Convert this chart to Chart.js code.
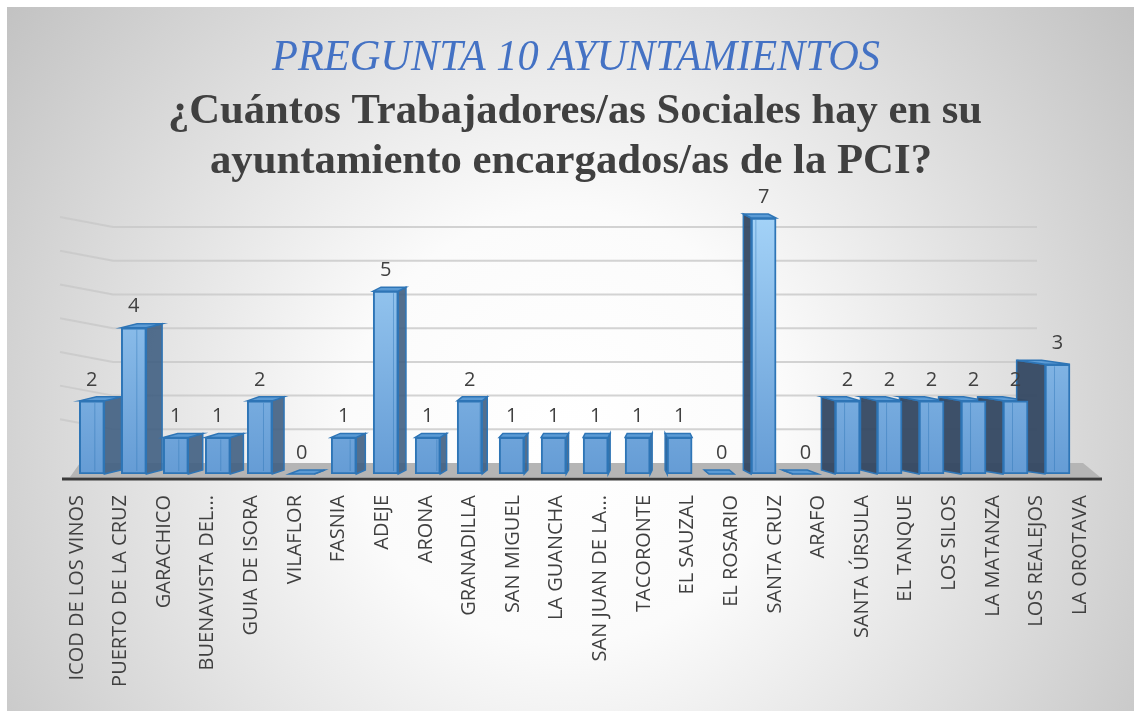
<!DOCTYPE html>
<html>
<head>
<meta charset="utf-8">
<script src="https://cdn.jsdelivr.net/npm/chart.js@4.4.1/dist/chart.umd.min.js"></script>
<style>
  html, body { margin: 0; padding: 0; background: #ffffff; }
  #panel { position: absolute; left: 7px; top: 7px; width: 1127px; height: 704px; }
</style>
</head>
<body>
<div id="panel"><canvas id="grafico"></canvas></div>
<script>
/* --------------- Datos --------------------- */
const municipios = [
  "ICOD DE LOS VINOS", "PUERTO DE LA CRUZ", "GARACHICO", "BUENAVISTA DEL...",
  "GUIA DE ISORA", "VILAFLOR", "FASNIA", "ADEJE", "ARONA", "GRANADILLA",
  "SAN MIGUEL", "LA GUANCHA", "SAN JUAN DE LA...", "TACORONTE", "EL SAUZAL",
  "EL ROSARIO", "SANTA CRUZ", "ARAFO", "SANTA ÚRSULA", "EL TANQUE",
  "LOS SILOS", "LA MATANZA", "LOS REALEJOS", "LA OROTAVA"
];
const trabajadores = [2, 4, 1, 1, 2, 0, 1, 5, 1, 2, 1, 1, 1, 1, 1, 0, 7, 0, 2, 2, 2, 2, 2, 3];
const titulo = "PREGUNTA 10 AYUNTAMIENTOS";
const pregunta = [
  "¿Cuántos Trabajadores/as Sociales hay en su",
  "ayuntamiento encargados/as de la PCI?"
];
const nivelesRejilla = [1, 2, 3, 4, 5, 6, 7];

/* --------------- Ayudas de dibujo --------------------- */
function textoAjustado(ctx, txt, cx, by, font, color, ancho) {
  ctx.save();
  ctx.font = font;
  ctx.fillStyle = color;
  ctx.textAlign = "center";
  ctx.textBaseline = "alphabetic";
  const k = ancho / ctx.measureText(txt).width;
  ctx.translate(cx, by);
  ctx.scale(k, 1);
  ctx.fillText(txt, 0, 0);
  ctx.restore();
}

function poligono(ctx, pts, fill, stroke, lw) {
  ctx.beginPath();
  ctx.moveTo(pts[0][0], pts[0][1]);
  for (let i = 1; i < pts.length; i++) ctx.lineTo(pts[i][0], pts[i][1]);
  ctx.closePath();
  ctx.fillStyle = fill;
  ctx.fill();
  if (stroke) {
    ctx.strokeStyle = stroke;
    ctx.lineWidth = lw;
    ctx.stroke();
  }
}

const PUNTO_FUGA = 633;
const FONDO = 4;

// ancho y sentido del lateral de cada barra (perspectiva)
function lateral(x, w) {
  if (x < PUNTO_FUGA) return { s: Math.max(2, (PUNTO_FUGA - (x + w / 2)) * 0.032), dir: 1 };
  return { s: Math.max(2, ((x - w / 2) - PUNTO_FUGA) * 0.07), dir: -1 };
}

/* --------------- Plugin 3D --------------------- */
const efecto3d = {
  id: "efecto3d",
  beforeDraw(chart) {
    const { ctx, width, height } = chart;
    ctx.save();
    const g = ctx.createRadialGradient(560, 420, 0, 560, 420, 720);
    g.addColorStop(0, "#ffffff");
    g.addColorStop(0.3, "#fbfbfb");
    g.addColorStop(1, "#c0c0c0");
    ctx.fillStyle = g;
    ctx.fillRect(0, 0, width, height);
    ctx.restore();

    textoAjustado(ctx, titulo, 569, 63, "italic 44px 'Liberation Serif'", "#4472c4", 608);
    textoAjustado(ctx, pregunta[0], 568, 116, "bold 42px 'Liberation Serif'", "#404040", 814);
    textoAjustado(ctx, pregunta[1], 564, 166, "bold 42px 'Liberation Serif'", "#404040", 722);
  },
  beforeDatasetsDraw(chart) {
    const { ctx } = chart;
    const yg = chart.scales.yg;
    ctx.save();

    // rejilla de la pared del fondo
    ctx.strokeStyle = "rgba(200,200,200,0.8)";
    ctx.lineWidth = 2;
    nivelesRejilla.forEach((v) => {
      const py = yg.getPixelForValue(v);
      ctx.beginPath();
      ctx.moveTo(53, py - 10);
      ctx.lineTo(106, py);
      ctx.lineTo(1030, py);
      ctx.stroke();
    });

    // suelo
    const base = chart.chartArea.bottom;
    poligono(ctx, [[73, base - 11], [1076, base - 11], [1093, base + 3], [63, base + 3]], "#b5b5b5");
    ctx.strokeStyle = "#3a3a3a";
    ctx.lineWidth = 3;
    ctx.beginPath();
    ctx.moveTo(55, base + 5);
    ctx.lineTo(1095, base + 5);
    ctx.stroke();

    // laterales y tapas
    const meta = chart.getDatasetMeta(0);
    meta.data.forEach((bar) => {
      const { x, y, base: b, width: w } = bar.getProps(["x", "y", "base", "width"], true);
      const xl = x - w / 2, xr = x + w / 2;
      const { s, dir } = lateral(x, w);
      const d = FONDO;
      if (dir === 1) {
        poligono(ctx, [[xr, y], [xr + s, y - d], [xr + s, b - d], [xr, b]], "rgba(64,95,130,0.9)", "#2e75b6", 1.5);
        poligono(ctx, [[xl, y], [xl + s, y - d], [xr + s, y - d], [xr, y]], "#5b9bd5", "#2e75b6", 1.5);
      } else {
        poligono(ctx, [[xl, y], [xl - s, y - d], [xl - s, b - d], [xl, b]], "rgba(52,72,98,0.95)", "#2e75b6", 1.5);
        poligono(ctx, [[xl, y], [xl - s, y - d], [xr - s, y - d], [xr, y]], "#5b9bd5", "#2e75b6", 1.5);
      }
    });
    ctx.restore();
  },
  afterDatasetsDraw(chart) {
    const { ctx } = chart;
    const meta = chart.getDatasetMeta(0);
    ctx.save();
    // arista trasera vista a traves de la cara frontal
    ctx.strokeStyle = "rgba(46,117,182,0.45)";
    ctx.lineWidth = 1;
    meta.data.forEach((bar) => {
      const { x, y, base: b, width: w } = bar.getProps(["x", "y", "base", "width"], true);
      if (b - y < 6) return;
      const { s, dir } = lateral(x, w);
      const xe = dir === 1 ? x + w / 2 - Math.min(s, w / 2) + 3 : x - w / 2 + Math.min(s, w / 2) - 3;
      ctx.beginPath();
      ctx.moveTo(xe, y + 2);
      ctx.lineTo(xe, b - 3);
      ctx.stroke();
    });

    ctx.font = "20px 'Open Sans'";
    ctx.fillStyle = "#404040";
    ctx.textAlign = "center";
    ctx.textBaseline = "bottom";
    meta.data.forEach((bar, i) => {
      const { x, y } = bar.getProps(["x", "y"], true);
      ctx.fillText(String(trabajadores[i]), x, y - FONDO - 7);
    });
    ctx.restore();
  }
};

/* --------------- Grafico --------------------- */
new Chart(document.getElementById("grafico"), {
  type: "bar",
  plugins: [efecto3d],
  data: {
    labels: municipios,
    datasets: [{
      data: trabajadores.map((v, i) => ({ x: i, y: v })),
      xAxisID: "xb",
      yAxisID: "y",
      barThickness: 25,
      borderColor: "#2e75b6",
      borderWidth: 2,
      borderSkipped: false,
      backgroundColor: (c) => {
        const area = c.chart.chartArea;
        if (!area) return "#6aa3da";
        const g = c.chart.ctx.createLinearGradient(0, area.top, 0, area.bottom);
        g.addColorStop(0, "#a3d2f7");
        g.addColorStop(1, "#659cd5");
        return g;
      }
    }]
  },
  options: {
    responsive: true,
    maintainAspectRatio: false,
    animation: false,
    devicePixelRatio: 1,
    layout: { padding: { top: 211, left: 48, right: 32, bottom: 0 } },
    plugins: {
      legend: { display: false },
      tooltip: { enabled: false },
      title: { display: false }
    },
    scales: {
      x: {
        type: "category",
        labels: municipios,
        offset: true,
        position: "bottom",
        grid: { display: false, drawTicks: false },
        border: { display: false },
        ticks: {
          autoSkip: false,
          minRotation: 90,
          maxRotation: 90,
          padding: 21,
          color: "#404040",
          font: { family: "'Open Sans'", size: 20 }
        },
        afterFit: (s) => { s.height = 237; }
      },
      xb: { type: "linear", display: false, offset: false, grace: 0, min: -0.877, max: 24.06 },
      y: { type: "linear", display: false, min: 0, max: 7 },
      yg: { type: "linear", display: false, min: -0.326, max: 7.27 }
    }
  }
});
</script>
</body>
</html>
